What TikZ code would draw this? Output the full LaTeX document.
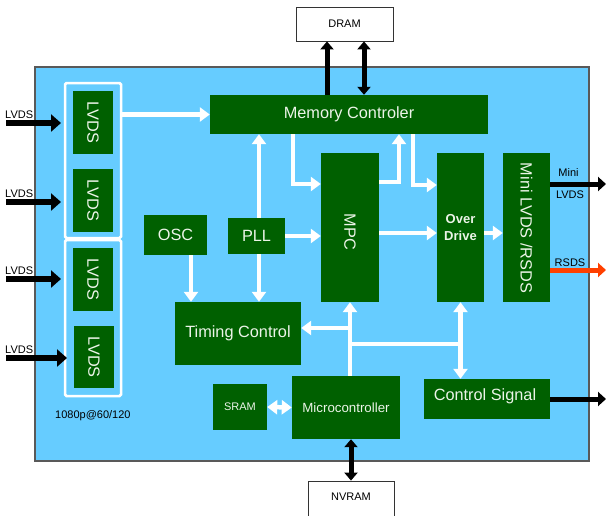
\documentclass[tikz,border=0pt]{standalone}
\usepackage{fontspec}
\setmainfont{Liberation Sans}
\usetikzlibrary{arrows.meta,calc}
\definecolor{bg}{RGB}{102,204,255}
\definecolor{dkg}{RGB}{0,96,0}
\definecolor{lt}{RGB}{236,244,232}
\definecolor{rsds}{RGB}{255,64,0}
\begin{document}
\begin{tikzpicture}[x=1pt,y=-1pt,
  blk/.style={fill=dkg,text=lt,inner sep=0pt,font=\fontsize{16.3}{19}\selectfont},
  btxt/.style={font=\fontsize{16.3}{19}\selectfont,text=lt,inner sep=0pt},
  memb/.style={fill=white,draw=black!80,line width=0.8pt,inner sep=0pt,font=\fontsize{11}{13}\selectfont},
  grp/.style={draw=white,line width=2.5pt,rounded corners=1.5pt,inner sep=0pt},
  lbl/.style={inner sep=0pt,font=\fontsize{11}{13}\selectfont,text=black},
  wline/.style={draw=white,line width=4.5pt},
  warr/.style={draw=white,line width=4.5pt,-{Triangle[width=14pt,length=10pt]}},
  wdbl/.style={draw=white,line width=4.5pt,{Triangle[width=14pt,length=10pt]}-{Triangle[width=14pt,length=10pt]}},
  bin/.style={draw=black,line width=6pt,-{Triangle[width=17pt,length=10pt]}},
  bout/.style={line width=5pt,-{Triangle[width=14pt,length=8pt]}},
  bv/.style={draw=black,line width=5pt,-{Triangle[width=13pt,length=8pt]}},
  bvd/.style={draw=black,line width=5pt,{Triangle[width=13pt,length=8pt]}-{Triangle[width=13pt,length=8pt]}}
]
\useasboundingbox (0,0) rectangle (606,515);
\begin{scope}
\clip (0,0) rectangle (606,515);
\fill[bg,draw=black!65,line width=1.2pt] (35,67) rectangle (589,461);

% external memories
\node[memb,minimum width=97pt,minimum height=34pt] (dram) at (344.5,24) {DRAM};
\node[memb,minimum width=86pt,minimum height=38pt,text depth=0pt] (nvram) at (351,500) {};
\node[lbl] (nvramt) at (351,497) {NVRAM};

% groups
\node[grp,minimum width=56pt,minimum height=155pt] (grpA) at (93,160.5) {};
\node[grp,minimum width=56pt,minimum height=156pt] (grpB) at (93,318) {};

% blocks
\node[blk,minimum width=63pt,minimum height=40pt,rotate=-90] (lv1) at (93,122.5) {LVDS};
\node[blk,minimum width=63pt,minimum height=40pt,rotate=-90] (lv2) at (93,200.5) {LVDS};
\node[blk,minimum width=63pt,minimum height=40pt,rotate=-90] (lv3) at (93,279.5) {LVDS};
\node[blk,minimum width=62pt,minimum height=40pt,rotate=-90] (lv4) at (94,357) {LVDS};

\node[blk,minimum width=278pt,minimum height=39pt] (mc) at (349,114.5) {Memory Controler};
\node[blk,minimum width=58pt,minimum height=149pt] (mpc) at (350,227.5) {};
\node[btxt,rotate=-90] (mpct) at (350,232) {MPC};
\node[blk,minimum width=47pt,minimum height=149pt,align=center,font=\bfseries\fontsize{13}{16.5}\selectfont] (od) at (460.5,227.5) {Over\\Drive};
\node[blk,minimum width=47pt,minimum height=149pt] (mini) at (526.5,227.5) {};
\node[btxt,rotate=-90] (minit) at (526.5,228) {Mini LVDS /RSDS};
\node[blk,minimum width=57pt,minimum height=36pt] (pll) at (256.5,236) {PLL};
\node[blk,minimum width=63pt,minimum height=40pt] (osc) at (175.5,235) {OSC};
\node[blk,minimum width=126pt,minimum height=63pt] (tc) at (238,333.5) {Timing Control};
\node[blk,minimum width=54pt,minimum height=46pt,font=\fontsize{11}{13}\selectfont] (sram) at (240,407) {SRAM};
\node[blk,minimum width=108pt,minimum height=63pt,font=\fontsize{13.3}{16}\selectfont] (mcu) at (346,407.5) {Microcontroller};
\node[blk,minimum width=126pt,minimum height=40pt] (cs) at (487,399) {};
\node[btxt] (cst) at (485,396) {Control Signal};

% labels
\node[lbl,anchor=base west] (l1) at (5,118.5) {LVDS};
\node[lbl,anchor=base west] (l2) at (5,197.5) {LVDS};
\node[lbl,anchor=base west] (l3) at (5,274.5) {LVDS};
\node[lbl,anchor=base west] (l4) at (5,353.5) {LVDS};
\node[lbl,anchor=base west] (fmt) at (55,418) {1080p@60/120};
\node[lbl,anchor=base] (lm1) at (568.5,176) {Mini};
\node[lbl,anchor=base] (lm2) at (570,198) {LVDS};
\node[lbl,anchor=base] (lm3) at (570,266) {RSDS};

% input arrows
\coordinate (i1s) at (6,123); \coordinate (i1e) at (61,123);
\coordinate (i2s) at (6,202); \coordinate (i2e) at (61,202);
\coordinate (i3s) at (6,279); \coordinate (i3e) at (61,279);
\coordinate (i4s) at (6,358); \coordinate (i4e) at (67,358);
\draw[bin] (i1s) -- (i1e);
\draw[bin] (i2s) -- (i2e);
\draw[bin] (i3s) -- (i3e);
\draw[bin] (i4s) -- (i4e);

% output arrows
\coordinate (o1) at (606,184);
\coordinate (o2) at (606,270);
\coordinate (o3) at (606,399);
\draw[bout,draw=black] (mini.east |- o1) -- (o1);
\draw[bout,draw=rsds,rsds] (mini.east |- o2) -- (o2);
\draw[bout,draw=black] (cs.east |- o3) -- (o3);

% memory arrows
\draw[bv] (327,0 |- mc.north) -- (327,0 |- dram.south);
\draw[bvd] (364,0 |- dram.south) -- (364,0 |- mc.north);
\draw[bvd] (351,0 |- mcu.south) -- (351,0 |- nvram.north);

% internal white connectors
\draw[warr] (grpA.east |- mc.west) -- (mc.west);
\draw[warr] (259,0 |- pll.north) -- (259,0 |- mc.south);
\draw[warr] (259,0 |- pll.south) -- (259,0 |- tc.north);
\draw[warr] (191,0 |- osc.south) -- (191,0 |- tc.north);
\draw[warr] (pll.east) -- (pll.east -| mpc.west);
\draw[warr] (293,0 |- mc.south) |- (mpc.west |- 0,184);
\draw[warr] (mpc.east |- 0,182) -| (399,0 |- mc.south);
\draw[warr] (413,0 |- mc.south) |- (od.west |- 0,185);
\draw[warr] (mpc.east |- 0,233) -- (od.west |- 0,233);
\draw[warr] (od.east |- 0,233) -- (mini.west |- 0,233);
\draw[warr] (mpc.south |- mcu.north) -- (mpc.south);
\draw[warr] (mpc.south |- 0,328) -- (tc.east |- 0,328);
\draw[wline] (mpc.south |- 0,344) -- (od.south |- 0,344);
\draw[wdbl] (od.south) -- (od.south |- cs.north);
\draw[wdbl] (sram.east) -- (mcu.west);
\end{scope}
\end{tikzpicture}
\end{document}
